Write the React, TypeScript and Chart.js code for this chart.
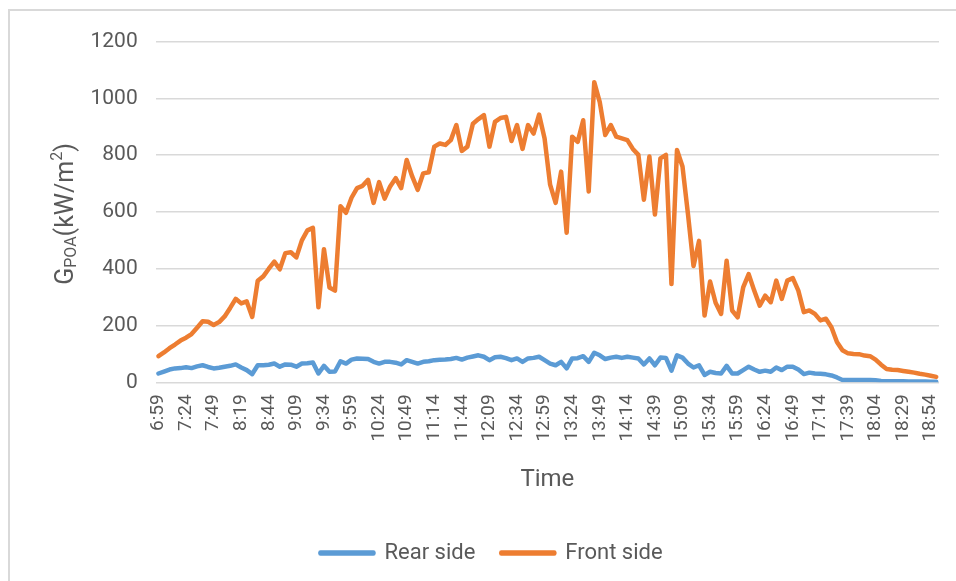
import React, { useEffect, useRef } from "react";
import { Chart, registerables } from "chart.js";

Chart.register(...registerables);

const TIMES: string[] = [
  "6:59", "7:04", "7:09", "7:14", "7:19", "7:24", "7:29", "7:34", "7:39", "7:44",
  "7:49", "7:54", "7:59", "8:04", "8:14", "8:19", "8:24", "8:29", "8:34", "8:39",
  "8:44", "8:49", "8:54", "8:59", "9:04", "9:09", "9:14", "9:19", "9:24", "9:29",
  "9:34", "9:39", "9:44", "9:49", "9:54", "9:59", "10:04", "10:09", "10:14", "10:19",
  "10:24", "10:29", "10:34", "10:39", "10:44", "10:49", "10:54", "10:59", "11:04", "11:09",
  "11:14", "11:19", "11:24", "11:29", "11:39", "11:44", "11:49", "11:54", "11:59", "12:04",
  "12:09", "12:14", "12:19", "12:24", "12:29", "12:34", "12:39", "12:44", "12:49", "12:54",
  "12:59", "13:04", "13:09", "13:14", "13:19", "13:24", "13:29", "13:34", "13:39", "13:44",
  "13:49", "13:54", "13:59", "14:04", "14:09", "14:14", "14:19", "14:24", "14:29", "14:34",
  "14:39", "14:44", "14:49", "14:54", "15:04", "15:09", "15:14", "15:19", "15:24", "15:29",
  "15:34", "15:39", "15:44", "15:49", "15:54", "15:59", "16:04", "16:09", "16:14", "16:19",
  "16:24", "16:29", "16:34", "16:39", "16:44", "16:49", "16:54", "16:59", "17:04", "17:09",
  "17:14", "17:19", "17:24", "17:29", "17:34", "17:39", "17:44", "17:49", "17:54", "17:59",
  "18:04", "18:09", "18:14", "18:19", "18:24", "18:29", "18:34", "18:39", "18:44", "18:49",
  "18:54", "18:59",
];

const REAR_SIDE: number[] = [
  31, 38, 45, 49, 50, 53, 50, 56, 60, 54,
  49, 51, 55, 58, 63, 52, 43, 29, 60, 60,
  62, 66, 55, 63, 62, 55, 66, 67, 70, 31,
  58, 37, 38, 74, 66, 80, 84, 83, 82, 72,
  66, 72, 72, 69, 63, 78, 72, 66, 72, 74,
  78, 79, 80, 82, 86, 80, 87, 91, 95, 90,
  78, 88, 90, 85, 78, 84, 72, 84, 86, 90,
  78, 66, 60, 72, 49, 84, 85, 92, 72, 104,
  95, 82, 87, 90, 86, 90, 87, 84, 63, 84,
  60, 87, 86, 41, 95, 87, 66, 52, 60, 26,
  37, 33, 31, 58, 31, 31, 43, 55, 45, 37,
  41, 37, 52, 43, 55, 55, 45, 29, 34, 31,
  30, 28, 24, 17, 8, 8, 8, 8, 8, 8,
  7, 5, 4, 4, 4, 4, 3, 3, 3, 3,
  2, 2,
];

const FRONT_SIDE: number[] = [
  92, 105, 120, 133, 147, 157, 170, 192, 215, 213,
  202, 212, 232, 262, 294, 278, 285, 230, 358, 373,
  400, 425, 398, 455, 458, 440, 500, 535, 544, 264,
  469, 334, 323, 620, 597, 650, 684, 692, 713, 632,
  705, 647, 690, 719, 684, 783, 725, 678, 736, 740,
  830, 841, 836, 853, 906, 815, 830, 911, 927, 941,
  830, 917, 931, 935, 850, 906, 822, 906, 876, 943,
  859, 696, 632, 742, 527, 865, 847, 923, 672, 1057,
  987, 871, 906, 865, 859, 853, 822, 801, 643, 795,
  591, 789, 801, 346, 818, 760, 591, 410, 498, 235,
  355, 280, 241, 428, 253, 229, 334, 381, 323, 270,
  305, 282, 358, 294, 358, 367, 323, 247, 253, 241,
  218, 224, 194, 142, 113, 102, 100, 99, 94, 92,
  80, 62, 47, 44, 43, 40, 37, 34, 30, 27,
  23, 19,
];

const SERIES_NAMES = ["Rear side", "Front side"];
const SERIES_COLORS = ["#5B9BD5", "#ED7D31"];
const Y_TICK_STEP = 200;
const Y_MAX = 1200;
const LABEL_EVERY = 5;

const FONT = "Roboto, 'Noto Sans', sans-serif";
const TEXT_COLOR = "#595959";

const yTitlePlugin = {
  id: "yTitleRich",
  afterDraw(chart: any) {
    const ctx = chart.ctx as CanvasRenderingContext2D;
    const parts = [
      { t: "G", size: 25, dy: 0 },
      { t: "POA", size: 16, dy: 3 },
      { t: "(kW/m", size: 25, dy: 0 },
      { t: "2", size: 16, dy: -11 },
      { t: ")", size: 25, dy: 0 },
    ];
    ctx.save();
    let total = 0;
    const widths: number[] = [];
    for (const p of parts) {
      ctx.font = `${p.size}px ${FONT}`;
      const w = ctx.measureText(p.t).width;
      widths.push(w);
      total += w;
    }
    const cy = (chart.chartArea.top + chart.chartArea.bottom) / 2 + 2;
    ctx.translate(63, cy);
    ctx.rotate(-Math.PI / 2);
    ctx.fillStyle = TEXT_COLOR;
    ctx.textBaseline = "alphabetic";
    ctx.textAlign = "left";
    let x = -total / 2;
    parts.forEach((p, i) => {
      ctx.font = `${p.size}px ${FONT}`;
      ctx.fillText(p.t, x, p.dy);
      x += widths[i];
    });
    ctx.restore();
  },
};

const legendShiftPlugin = {
  id: "legendShift",
  afterLayout(chart: any) {
    const lg = chart.legend;
    if (lg) {
      lg.left += 17;
      lg.right += 17;
    }
  },
};

export default function App() {
  const canvasRef = useRef<HTMLCanvasElement | null>(null);

  useEffect(() => {
    if (!canvasRef.current) return;
    const chart = new Chart(canvasRef.current, {
      type: "line",
      data: {
        labels: TIMES,
        datasets: [
          {
            label: SERIES_NAMES[0],
            data: REAR_SIDE,
            borderColor: SERIES_COLORS[0],
            backgroundColor: SERIES_COLORS[0],
            borderWidth: 4.5,
            pointRadius: 0,
            pointHoverRadius: 0,
            tension: 0,
            borderJoinStyle: "round",
            borderCapStyle: "round",
            order: 1,
          },
          {
            label: SERIES_NAMES[1],
            data: FRONT_SIDE,
            borderColor: SERIES_COLORS[1],
            backgroundColor: SERIES_COLORS[1],
            borderWidth: 4.5,
            pointRadius: 0,
            pointHoverRadius: 0,
            tension: 0,
            borderJoinStyle: "round",
            borderCapStyle: "round",
            order: 0,
          },
        ],
      },
      options: {
        responsive: false,
        animation: false,
        layout: { padding: { top: 29, right: 17, bottom: 7, left: 0 } },
        plugins: {
          tooltip: { enabled: false },
          legend: {
            position: "bottom",
            labels: {
              sort: (a: any, b: any) => a.datasetIndex - b.datasetIndex,
              boxWidth: 53,
              boxHeight: 1,
              padding: 26,
              color: TEXT_COLOR,
              font: { family: FONT, size: 22 },
            },
          },
        },
        scales: {
          x: {
            type: "category",
            offset: true,
            grid: { display: false, drawTicks: false },
            border: { display: false },
            ticks: {
              autoSkip: false,
              maxRotation: 90,
              minRotation: 90,
              padding: 12,
              color: TEXT_COLOR,
              font: { family: FONT, size: 19 },
              callback: (_v: any, i: number) => (i % LABEL_EVERY === 0 ? TIMES[i] : ""),
            },
            title: {
              display: true,
              text: "Time",
              color: TEXT_COLOR,
              font: { family: FONT, size: 24 },
              padding: { top: 0, bottom: 22 },
            },
            afterFit: (scale: any) => {
              scale.height = 133.7;
              scale.paddingLeft = 0;
              scale.paddingRight = 0;
            },
          },
          y: {
            min: 0,
            max: Y_MAX,
            grid: { color: "#d9d9d9", lineWidth: 1.5, drawTicks: false },
            border: { display: false },
            ticks: {
              stepSize: Y_TICK_STEP,
              padding: 18,
              color: TEXT_COLOR,
              font: { family: FONT, size: 21 },
              callback: (v: any) => String(v),
            },
            afterFit: (scale: any) => {
              scale.width = 145.7;
            },
          },
        },
      },
      plugins: [yTitlePlugin, legendShiftPlugin],
    } as any);
    return () => chart.destroy();
  }, []);

  return (
    <div
      style={{
        position: "fixed",
        left: 8,
        top: 9,
        width: 950,
        height: 590,
        border: "2px solid #d9d9d9",
        background: "#fff",
      }}
    >
      <canvas ref={canvasRef} width={946} height={570} style={{ display: "block" }} />
    </div>
  );
}
